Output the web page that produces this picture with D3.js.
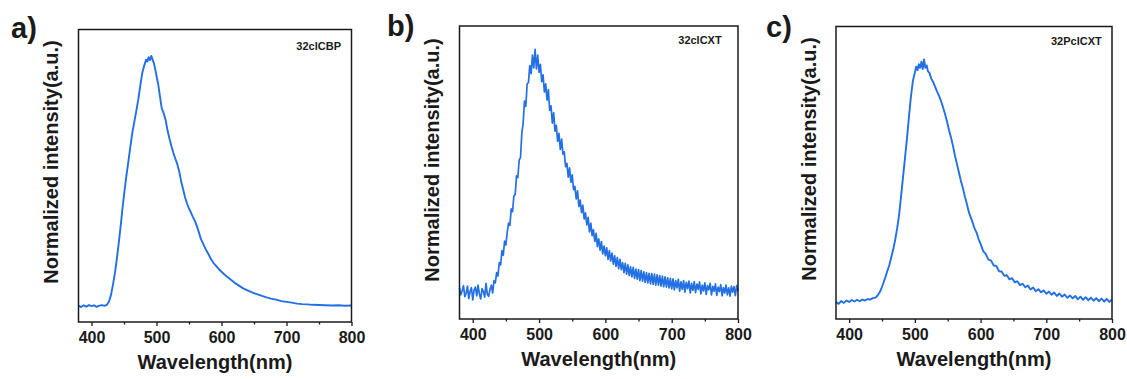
<!DOCTYPE html>
<html lang="en">
<head>
<meta charset="UTF-8"/>
<title>PL spectra</title>
<script src="https://d3js.org/d3.v7.min.js"></script>
<style>
    body { margin: 0; background: #fff; }
    svg text { font-family: "Liberation Sans", Arial, sans-serif; font-weight: bold; fill: #1a1a1a; }
    .frame { fill: none; stroke: #1a1a1a; stroke-width: 1.5; }
    .tick line { stroke: #1a1a1a; stroke-width: 1.3; }
    .spec { fill: none; stroke: #2270e4; stroke-linejoin: round; }
</style>
</head>
<body>
<div id="chart"></div>
<script>
// ---- data (normalized intensity) ----
var majorTicks = [400, 500, 600, 700, 800];
var minorTicks = [450, 550, 650, 750];
var panelTags = ["a)", "b)", "c)"];
var sampleNames = ["32clCBP", "32clCXT", "32PclCXT"];

var wlA = [380,384,388,392,396,400,404,408,412,416,420,424,427,430,433,436,439,442,445,448,451,454,457,460,463,466,469,472,475,478,481,484,486,488,490,492,494,496,498,500,503,506,508,511,514,517,520,523,526,529,532,535,538,541,544,547,550,553,556,559,562,565,568,571,574,577,580,584,588,592,596,600,605,610,616,622,628,634,640,646,652,660,668,676,684,692,700,708,716,724,732,740,750,760,770,780,790,800];
var intA = [0.002,-0.004,0.003,-0.002,0.004,0.000,0.003,-0.003,0.002,0.004,0.001,0.006,0.018,0.045,0.085,0.132,0.190,0.255,0.325,0.400,0.468,0.530,0.585,0.645,0.700,0.742,0.785,0.830,0.885,0.935,0.965,0.990,0.982,1.000,0.988,1.005,0.990,0.975,0.952,0.925,0.885,0.830,0.795,0.775,0.748,0.705,0.672,0.642,0.615,0.592,0.570,0.540,0.500,0.468,0.436,0.412,0.392,0.375,0.358,0.342,0.322,0.298,0.272,0.255,0.238,0.222,0.208,0.188,0.172,0.160,0.148,0.138,0.126,0.115,0.103,0.090,0.080,0.070,0.063,0.056,0.050,0.043,0.036,0.030,0.026,0.020,0.017,0.014,0.010,0.008,0.007,0.005,0.004,0.003,0.002,0.003,0.001,0.002];

// panel b: 380..800 nm every 2 nm
var wlB = d3.range(380, 801, 2);
var intB = [
 0.018,-0.012,0.006,0.028,-0.020,-0.006,0.026,-0.028,0.004,0.019,
 -0.034,0.010,0.022,-0.016,0.030,-0.008,-0.030,0.015,0.002,-0.022,
 0.038,-0.010,-0.018,0.012,0.030,-0.004,0.050,0.040,0.085,0.070,
 0.128,0.118,0.180,0.160,0.222,0.205,0.262,0.300,0.290,0.362,
 0.350,0.418,0.425,0.505,0.498,0.575,0.585,0.690,0.735,0.830,
 0.808,0.905,0.912,0.985,0.950,1.030,0.975,1.055,0.970,1.030,
 0.955,0.990,0.915,0.945,0.870,0.905,0.835,0.880,0.790,0.810,
 0.735,0.780,0.700,0.725,0.655,0.690,0.620,0.665,0.600,0.610,
 0.545,0.560,0.500,0.540,0.478,0.510,0.445,0.460,0.405,0.440,
 0.372,0.400,0.345,0.378,0.318,0.345,0.292,0.325,0.262,0.300,
 0.245,0.272,0.220,0.255,0.198,0.232,0.182,0.220,0.166,0.200,
 0.158,0.192,0.142,0.180,0.135,0.170,0.122,0.158,0.112,0.150,
 0.102,0.142,0.098,0.128,0.085,0.125,0.078,0.118,0.072,0.110,
 0.066,0.108,0.060,0.100,0.056,0.098,0.050,0.094,0.048,0.088,
 0.042,0.085,0.040,0.082,0.036,0.080,0.034,0.078,0.030,0.075,
 0.030,0.072,0.026,0.070,0.024,0.066,0.022,0.062,0.018,0.060,
 0.014,0.058,0.010,0.050,0.018,0.055,0.004,0.045,0.012,0.050,
 0.000,0.042,0.015,0.048,-0.004,0.038,0.008,0.046,-0.002,0.035,
 0.012,0.044,-0.008,0.030,0.005,0.040,-0.010,0.028,0.010,0.038,
 -0.012,0.025,0.004,0.036,-0.014,0.022,0.002,0.032,-0.016,0.020,
 -0.004,0.030,-0.012,0.018,-0.018,0.026,0.000,0.024,-0.015,0.028,
 0.004];

var wlC = [380,384,388,392,396,400,404,408,412,416,420,424,428,432,436,440,443,446,449,452,455,458,461,464,467,470,473,476,479,482,485,488,491,494,497,500,502,504,506,508,510,512,514,516,518,520,522,525,528,531,534,537,540,543,546,549,552,555,558,561,564,567,570,573,576,579,582,585,588,591,594,597,600,604,608,612,616,620,624,628,632,636,640,644,648,652,656,660,664,668,672,676,680,684,688,692,696,700,704,708,712,716,720,724,728,732,736,740,744,748,752,756,760,764,768,772,776,780,784,788,792,796,800];
var intC = [0.0,-0.008,0.004,-0.004,0.006,0.0,0.008,0.002,0.009,0.003,0.010,0.006,0.012,0.010,0.016,0.018,0.026,0.038,0.055,0.078,0.102,0.128,0.152,0.185,0.218,0.258,0.305,0.362,0.44,0.52,0.6,0.68,0.77,0.855,0.92,0.955,0.98,0.965,0.99,0.975,1.0,0.97,1.01,0.975,0.985,0.96,0.955,0.93,0.915,0.895,0.875,0.857,0.835,0.81,0.782,0.75,0.715,0.685,0.65,0.61,0.575,0.54,0.505,0.475,0.44,0.41,0.375,0.352,0.33,0.305,0.288,0.262,
 0.242,0.212,0.199,0.176,0.172,0.152,0.150,0.128,0.127,0.109,0.111,0.094,0.099,0.082,0.086,0.070,0.076,0.061,0.068,0.052,0.060,0.045,0.053,0.040,0.048,0.034,0.043,0.030,0.039,0.025,0.035,0.022,0.031,0.017,0.027,0.015,0.025,0.011,0.022,0.009,0.020,0.007,0.018,0.005,0.016,0.003,0.014,0.002,0.013,0.000,0.011];

var yDomains = [[-0.064, 1.111], [-0.117, 1.157], [-0.071, 1.147]];

// ---- layout of the three frames (pixels) ----
var w = 1127, h = 379;
var frames = [
    {x0: 78.5, x1: 351.5, y0: 29.5, y1: 322, tagX: 11, tagY: 38, ylabY: 162, nameDx: 10.5, nameDy: 20.5, lw: 1.9},
    {x0: 459.5, x1: 738, y0: 26, y1: 319, tagX: 387, tagY: 36, ylabY: 160, nameDx: 16.3, nameDy: 18.3, lw: 1.7},
    {x0: 836, x1: 1112, y0: 26.5, y1: 319, tagX: 766, tagY: 37, ylabY: 159, nameDx: 10.3, nameDy: 18.5, lw: 1.9}
];
var series = [
    wlA.map((d, i) => ({wl: d, v: intA[i]})),
    wlB.map((d, i) => ({wl: d, v: intB[i]})),
    wlC.map((d, i) => ({wl: d, v: intC[i]}))
];

var svg = d3.select("#chart").append("svg")
        .attr("width", w)
        .attr("height", h);

frames.forEach(function(f, k) {
    let xScale = d3.scaleLinear().domain([380, 800]).range([f.x0, f.x1]);
    let yScale = d3.scaleLinear().domain(yDomains[k]).range([f.y1, f.y0]);
    let g = svg.append("g");

    let line = d3.line()
            .x(d => xScale(d.wl))
            .y(d => yScale(d.v));
    g.append("path")
        .datum(series[k])
        .attr("class", "spec")
        .attr("stroke-width", f.lw)
        .attr("d", line);

    // minor + major ticks, outward
    g.append("g")
        .attr("transform", `translate(0, ${f.y1})`)
        .call(d3.axisBottom(xScale).tickValues(minorTicks).tickSize(2.5).tickFormat(""))
        .call(a => a.select(".domain").remove());
    g.append("g")
        .attr("transform", `translate(0, ${f.y1})`)
        .call(d3.axisBottom(xScale).tickValues(majorTicks).tickSize(4).tickPadding(5.5))
        .call(a => a.select(".domain").remove())
        .call(a => a.selectAll("text").attr("font-size", 16).attr("fill", null));

    g.append("rect")
        .attr("class", "frame")
        .attr("x", f.x0).attr("y", f.y0)
        .attr("width", f.x1 - f.x0).attr("height", f.y1 - f.y0);

    g.append("text")
        .attr("x", (f.x0 + f.x1) / 2)
        .attr("y", f.y1 + 47)
        .attr("text-anchor", "middle")
        .attr("font-size", 20)
        .text("Wavelength(nm)");

    g.append("text")
        .attr("transform", `translate(${f.x0 - 20.5}, ${f.ylabY}) rotate(-90)`)
        .attr("text-anchor", "middle")
        .attr("font-size", 20)
        .text("Normalized intensity(a.u.)");

    g.append("text")
        .attr("x", f.x1 - f.nameDx)
        .attr("y", f.y0 + f.nameDy)
        .attr("text-anchor", "end")
        .attr("font-size", 11)
        .text(sampleNames[k]);

    g.append("text")
        .attr("x", f.tagX)
        .attr("y", f.tagY)
        .attr("font-size", 29)
        .text(panelTags[k]);
});
</script>
</body>
</html>
